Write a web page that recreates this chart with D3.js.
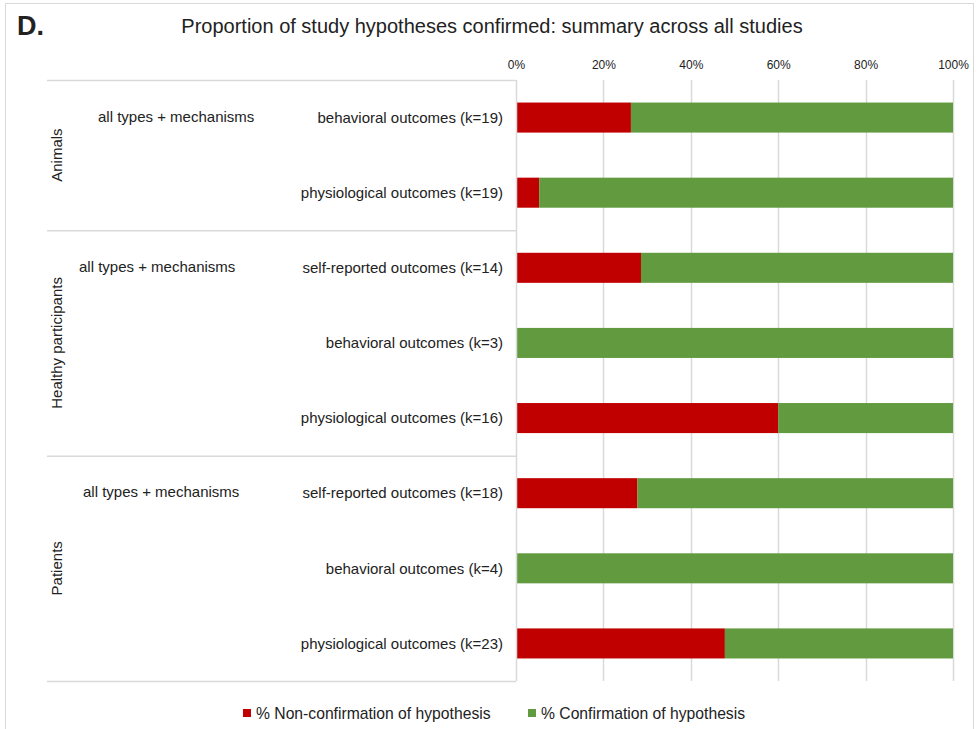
<!DOCTYPE html>
<html><head><meta charset="utf-8">
<script src="https://cdn.jsdelivr.net/npm/d3@7"></script>
<style>body{margin:0;background:#fff;} text{font-family:"Liberation Sans",Arial,sans-serif;fill:#222;}</style>
</head><body>
<svg id="c" width="979" height="729"></svg>
<script>
const groups = ["Animals","Healthy participants","Patients"];
const groupSizes = [2,3,3];
const subLabels = ["all types + mechanisms","all types + mechanisms","all types + mechanisms"];
const categories = ["behavioral outcomes (k=19)","physiological outcomes (k=19)","self-reported outcomes (k=14)","behavioral outcomes (k=3)","physiological outcomes (k=16)","self-reported outcomes (k=18)","behavioral outcomes (k=4)","physiological outcomes (k=23)"];
const nonConfirm = [26.3,5.3,28.6,0,60,27.8,0,47.8];
const confirm = nonConfirm.map(v=>100-v);
const ticks = [0,20,40,60,80,100];
const seriesNames = ["% Non-confirmation of hypothesis","% Confirmation of hypothesis"];
const colors = ["#C00000","#629B3F"];

(function(){
const svg = d3.select("#c");
svg.append("rect").attr("x",5.5).attr("y",3.5).attr("width",968).attr("height",740).attr("fill","none").attr("stroke","#d9d9d9");

const pL=516,pR=953,pT=80,pB=681;
const x=d3.scaleLinear().domain([0,100]).range([pL,pR]);
const y=d3.scaleBand().domain(categories.map((c,i)=>i)).range([pT,pB]).paddingInner(0.6).paddingOuter(0.3);
const band=d3.scaleBand().domain(categories.map((c,i)=>i)).range([pT,pB]);

// gridlines
svg.append("g").selectAll("line").data(ticks.slice(1)).join("line")
 .attr("x1",d=>Math.round(x(d))+0.5).attr("x2",d=>Math.round(x(d))+0.5).attr("y1",pT).attr("y2",pB)
 .attr("stroke","#d9d9d9").attr("stroke-width",1.5);
// top axis labels
const ax=d3.axisTop(x).tickValues(ticks).tickFormat(d=>d+"%").tickSize(0).tickPadding(0);
const axg=svg.append("g").attr("transform",`translate(0,69)`).call(ax);
axg.select(".domain").remove();
axg.selectAll("text").style("font-family","Liberation Sans, Arial").style("font-size","12px").attr("fill","#222");

// bars
const stacks=[nonConfirm,confirm];
stacks.forEach((vals,s)=>{
  svg.append("g").selectAll("rect").data(vals).join("rect")
   .attr("x",(d,i)=> s===0 ? x(0) : x(nonConfirm[i]))
   .attr("width",d=>x(d)-x(0))
   .attr("y",(d,i)=>y(i)).attr("height",y.bandwidth())
   .attr("fill",colors[s]);
});

// category axis line
svg.append("line").attr("x1",pL+0.5).attr("x2",pL+0.5).attr("y1",pT).attr("y2",pB).attr("stroke","#d9d9d9").attr("stroke-width",1.5);

// category labels
svg.append("g").selectAll("text").data(categories).join("text")
 .attr("x",pL-13).attr("y",(d,i)=>band(i)+band.bandwidth()/2).attr("dy","0.35em")
 .attr("text-anchor","end").style("font-size","15px").text(d=>d);

// group separators and group labels
let start=0;
const boundaries=[start];
groupSizes.forEach(n=>{start+=n;boundaries.push(start);});
const by=d=>(d===categories.length?pB:band(d));
svg.append("g").selectAll("line").data(boundaries).join("line")
 .attr("x1",47).attr("x2",pL)
 .attr("y1",d=>by(d)+0.5).attr("y2",d=>by(d)+0.5)
 .attr("stroke","#d9d9d9").attr("stroke-width",1.5);
const subX=[98,79,83];
groups.forEach((g,gi)=>{
  const s=boundaries[gi],e=boundaries[gi+1];
  const y0=by(s), y1=by(e);
  svg.append("text").attr("transform",`translate(62,${(y0+y1)/2}) rotate(-90)`)
    .attr("text-anchor","middle").style("font-size","15px").text(g);
  svg.append("text").attr("x",subX[gi]).attr("y",band(s)+band.bandwidth()/2-1).attr("dy","0.35em")
    .style("font-size","15px").text(subLabels[gi]);
});

// title
svg.append("text").attr("x",492).attr("y",33).attr("text-anchor","middle").style("font-size","20px").text("Proportion of study hypotheses confirmed: summary across all studies");
svg.append("text").attr("x",17).attr("y",35).style("font-size","27px").style("font-weight","bold").text("D.");

// legend
const legX=[243,528];
seriesNames.forEach((n,i)=>{
  svg.append("rect").attr("x",legX[i]).attr("y",709).attr("width",8).attr("height",8).attr("fill",colors[i]);
  svg.append("text").attr("x",legX[i]+13).attr("y",714).attr("dy","0.35em").style("font-size","15.7px").text(n);
});
})();
</script>
</body></html>
